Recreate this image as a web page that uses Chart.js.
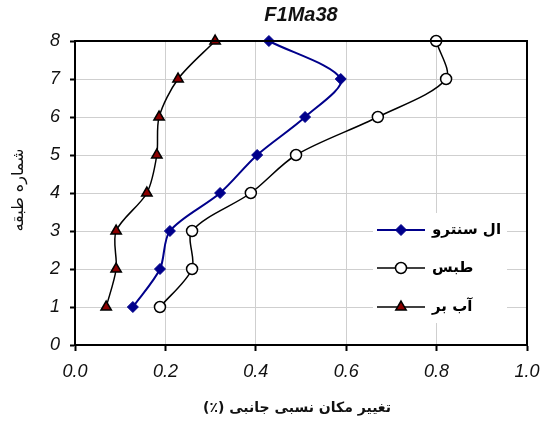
<!DOCTYPE html>
<html>
<head>
<meta charset="utf-8">
<script src="https://cdn.jsdelivr.net/npm/chart.js@4.4.1/dist/chart.umd.min.js"></script>
<style>
  html, body { margin: 0; padding: 0; background: #fff; }
  #wrap { width: 552px; height: 425px; }
</style>
</head>
<body>
<div id="wrap"><canvas id="driftChart" width="552" height="425"></canvas></div>
<script>
const floors = [1, 2, 3, 4, 5, 6, 7, 8];
const alCentro = [0.128, 0.188, 0.210, 0.321, 0.403, 0.509, 0.588, 0.429];
const tabas = [0.188, 0.259, 0.259, 0.389, 0.489, 0.670, 0.821, 0.799];
const abbar = [0.069, 0.091, 0.091, 0.159, 0.181, 0.186, 0.228, 0.310];
const seriesNames = ['ال سنترو', 'طبس', 'آب بر'];
const chartTitle = 'F1Ma38';
const xTitle = 'تغییر مکان نسبی جانبی (٪)';
const yTitle = 'شماره طبقه';

const FONT = '"Liberation Sans", Arial, sans-serif';
const ARABIC_FONT = '"DejaVu Sans", "Noto Sans", sans-serif';

function toPoints(values) {
  return floors.map((f, i) => ({ x: values[i], y: f }));
}

// frame, titles and the legend inside the plot
const decorations = {
  id: 'decorations',
  afterDatasetsDraw(chart) {
    const ctx = chart.ctx;
    const area = chart.chartArea;
    ctx.save();
    ctx.strokeStyle = '#000';
    ctx.lineWidth = 2;
    ctx.strokeRect(area.left, area.top, area.right - area.left, area.bottom - area.top);

    // title
    ctx.fillStyle = '#111';
    ctx.textAlign = 'center';
    ctx.textBaseline = 'middle';
    ctx.font = 'italic bold 20px ' + FONT;
    ctx.fillText(chartTitle, (area.left + area.right) / 2, 15);

    // axis titles
    ctx.direction = 'rtl';
    ctx.font = 'bold 14px ' + ARABIC_FONT;
    ctx.fillText(xTitle, 297, 408);
    ctx.save();
    ctx.translate(19, 190);
    ctx.rotate(-Math.PI / 2);
    ctx.font = '16px ' + ARABIC_FONT;
    ctx.fillText(yTitle, 0, 0);
    ctx.restore();

    // legend
    ctx.fillStyle = '#fff';
    ctx.fillRect(373, 213, 134, 110);
    const rows = [230, 268, 307];
    chart.data.datasets.forEach((ds, i) => {
      const y = rows[i];
      ctx.strokeStyle = ds.borderColor;
      ctx.lineWidth = ds.borderWidth;
      ctx.beginPath();
      ctx.moveTo(377, y);
      ctx.lineTo(425, y);
      ctx.stroke();
      ctx.fillStyle = ds.pointBackgroundColor;
      ctx.strokeStyle = ds.pointBorderColor;
      ctx.lineWidth = ds.pointBorderWidth;
      Chart.helpers.drawPoint(ctx, {
        pointStyle: ds.pointStyle,
        radius: ds.pointRadius,
        rotation: 0,
        borderWidth: ds.pointBorderWidth
      }, 401, y);
      ctx.fillStyle = '#000';
      ctx.font = 'bold 15px ' + ARABIC_FONT;
      ctx.textAlign = 'left';
      ctx.fillText(seriesNames[i], 432, y);
    });
    ctx.restore();
  }
};

new Chart(document.getElementById('driftChart'), {
  type: 'scatter',
  data: {
    datasets: [
      {
        label: seriesNames[0],
        data: toPoints(alCentro),
        showLine: true,
        clip: false,
        tension: 0.3,
        borderColor: '#00008b',
        borderWidth: 2,
        pointStyle: 'rectRot',
        pointRadius: 5.5,
        pointBackgroundColor: '#00008b',
        pointBorderColor: '#00008b',
        pointBorderWidth: 1
      },
      {
        label: seriesNames[1],
        data: toPoints(tabas),
        showLine: true,
        clip: false,
        tension: 0.3,
        borderColor: '#000',
        borderWidth: 1.5,
        pointStyle: 'circle',
        pointRadius: 5.5,
        pointBackgroundColor: '#fff',
        pointBorderColor: '#000',
        pointBorderWidth: 1.5
      },
      {
        label: seriesNames[2],
        data: toPoints(abbar),
        showLine: true,
        clip: false,
        tension: 0.3,
        borderColor: '#000',
        borderWidth: 1.5,
        pointStyle: 'triangle',
        pointRadius: 6,
        pointBackgroundColor: '#8b0000',
        pointBorderColor: '#000',
        pointBorderWidth: 1.5
      }
    ]
  },
  options: {
    responsive: false,
    animation: false,
    layout: { padding: { left: 0, right: 25, top: 41, bottom: 0 } },
    plugins: {
      legend: { display: false },
      tooltip: { enabled: false },
      title: { display: false }
    },
    scales: {
      x: {
        type: 'linear',
        min: 0,
        max: 1,
        ticks: {
          stepSize: 0.2,
          color: '#111',
          font: { family: FONT, size: 18, style: 'italic' },
          padding: 10,
          callback: v => v.toFixed(1)
        },
        grid: { color: '#cfcfcf', lineWidth: 1, tickColor: '#000', tickLength: 6, tickWidth: 2 },
        border: { color: '#000', width: 2 },
        afterFit: scale => { scale.height = 80; }
      },
      y: {
        type: 'linear',
        min: 0,
        max: 8,
        ticks: {
          stepSize: 1,
          color: '#111',
          font: { family: FONT, size: 18, style: 'italic' },
          padding: 10
        },
        grid: { color: '#cfcfcf', lineWidth: 1, tickColor: '#000', tickLength: 5, tickWidth: 2 },
        border: { color: '#000', width: 2 },
        afterFit: scale => { scale.width = 75; }
      }
    }
  },
  plugins: [decorations]
});
</script>
</body>
</html>
